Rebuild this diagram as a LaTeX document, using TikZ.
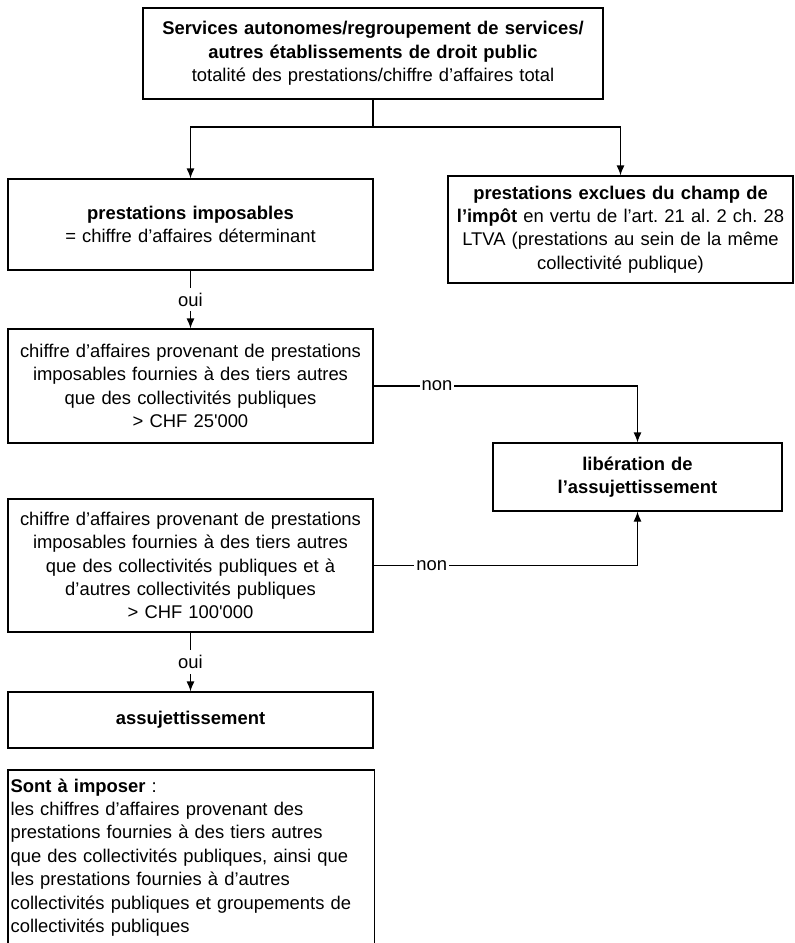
\documentclass[tikz,border=0pt]{standalone}
\usepackage{fontspec}
\setmainfont{Liberation Sans}[Ligatures=TeXOff]
\usepackage{tikz}
\usetikzlibrary{arrows.meta}

\newcommand{\boxfont}{\fontsize{9.2}{11.7}\selectfont\frenchspacing}

\begin{document}
\begin{tikzpicture}[x=0.5pt, y=-0.5pt, line width=0.6pt]
            \path[use as bounding box] (0,0) rectangle (794,943);
            \clip (0,0) rectangle (794,943);

            \begin{scope}[every node/.style = {draw, align=center, font=\boxfont,
                                                inner xsep=2pt, inner ysep=0pt}]
                \node[text width=226pt,   minimum height=45.5pt] (top)     at (373,53.5)   {\textbf{Services autonomes/regroupement de services/}\\\textbf{autres établissements de droit public}\\totalité des prestations/chiffre d’affaires total};
                \node[text width=178.5pt, minimum height=45.5pt] (impos)   at (190.5,224.5) {\textbf{prestations imposables}\\= chiffre d’affaires déterminant};
                \node[text width=168.5pt, minimum height=53.5pt] (exclues) at (620.5,229.5) {\textbf{prestations exclues du champ de}\\\textbf{l’impôt} en vertu de l’art. 21 al. 2 ch. 28\\LTVA (prestations au sein de la même\\collectivité publique)};
                \node[text width=178.5pt, minimum height=57pt]   (seuil1)  at (190.5,386)  {chiffre d’affaires provenant de prestations\\imposables fournies à des tiers autres\\que des collectivités publiques\\> CHF 25'000};
                \node[text width=140.5pt, minimum height=34pt]   (liber)   at (637.5,477)  {\textbf{libération de}\\\textbf{l’assujettissement}};
                \node[text width=178.5pt, minimum height=66.5pt] (seuil2)  at (190.5,565.5) {chiffre d’affaires provenant de prestations\\imposables fournies à des tiers autres\\que des collectivités publiques et à\\d’autres collectivités publiques\\> CHF 100'000};
                \node[text width=178.5pt, minimum height=28pt]   (assuj)   at (190.5,720)  {\textbf{assujettissement}};
                \node[draw=none, text width=180.5pt, align=left, anchor=north west,
                      inner xsep=1pt, inner ysep=4pt] (imposer) at (8,770)
                      {\textbf{Sont à imposer} :\\les chiffres d’affaires provenant des\\prestations fournies à des tiers autres\\que des collectivités publiques, ainsi que\\les prestations fournies à d’autres\\collectivités publiques et groupements de\\collectivités publiques};
            \end{scope}
            % box runs on past the lower edge of the page
            \draw ([yshift=-20pt]imposer.south west) |- (imposer.north east) -- ([yshift=-20pt]imposer.south east);

            \begin{scope}[>={Latex[length=5pt,width=4pt]},
                            every node/.style={fill=white, font=\boxfont, inner xsep=1pt, inner ysep=2.5pt}]
                \coordinate (fork) at (373,127);
                \draw (top) -- (fork);
                \draw [->] (fork) -| (impos);
                \draw [->] (fork) -| (exclues);
                \draw [->] (impos) -- node {oui} (seuil1);
                \draw [->] (seuil1.east) -| node[pos=0.12] {non} (liber.north);
                \draw [->] (seuil2.east) -| node[pos=0.11] {non} (liber.south);
                \draw [->] (seuil2) -- node {oui} (assuj);
            \end{scope}
        \end{tikzpicture}
\end{document}
